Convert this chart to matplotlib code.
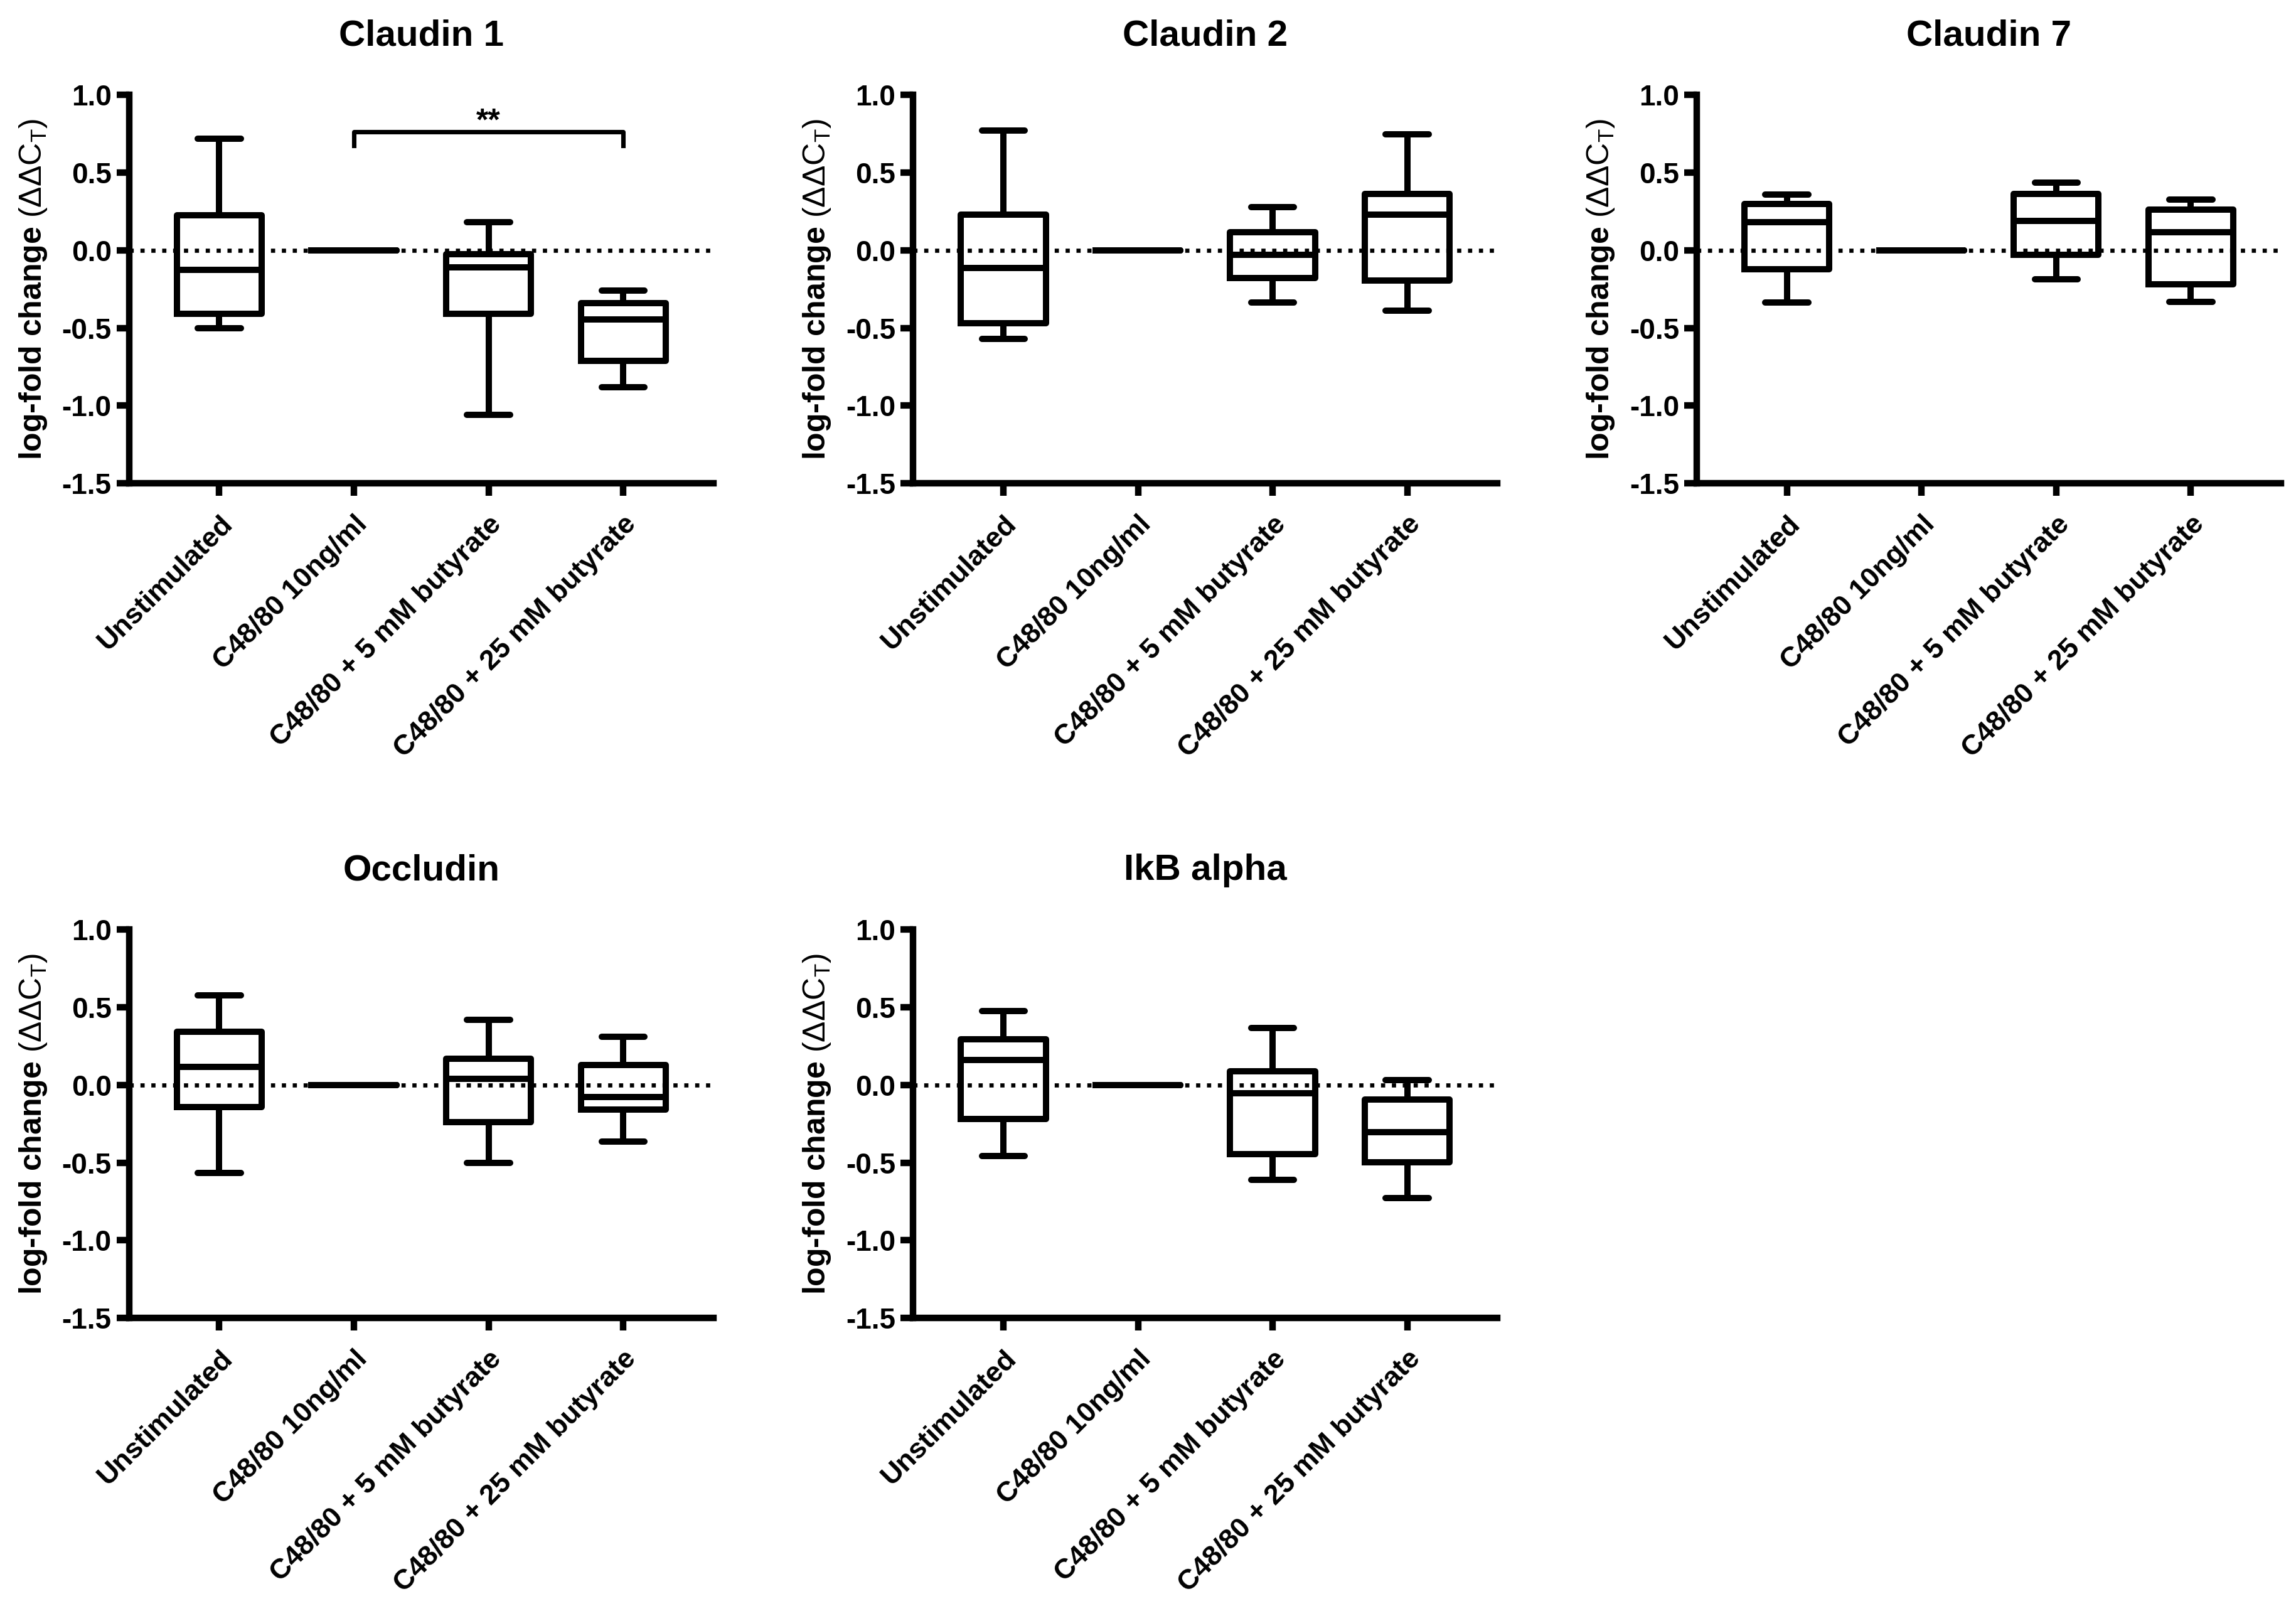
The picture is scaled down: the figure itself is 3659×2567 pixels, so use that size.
import matplotlib
matplotlib.use("Agg")
import matplotlib.pyplot as plt

plt.rcParams['font.family'] = ['Liberation Sans', 'DejaVu Sans']
plt.rcParams['mathtext.fontset'] = 'custom'
plt.rcParams['mathtext.rm'] = 'Liberation Sans'
plt.rcParams['mathtext.it'] = 'Liberation Sans:italic'
plt.rcParams['mathtext.bf'] = 'Liberation Sans:bold'

categories = ["Unstimulated", "C48/80 10ng/ml", "C48/80 + 5 mM butyrate", "C48/80 + 25 mM butyrate"]
titles = ["Claudin 1", "Claudin 2", "Claudin 7", "Occludin", "IkB alpha"]

# per panel: whisker low, Q1, median, Q3, whisker high for each category
claudin1_low = [-0.50, 0.0, -1.06, -0.88]
claudin1_q1 = [-0.41, 0.0, -0.41, -0.71]
claudin1_med = [-0.125, 0.0, -0.11, -0.445]
claudin1_q3 = [0.225, 0.0, -0.025, -0.34]
claudin1_high = [0.72, 0.0, 0.18, -0.26]

claudin2_low = [-0.57, 0.0, -0.335, -0.39]
claudin2_q1 = [-0.47, 0.0, -0.18, -0.195]
claudin2_med = [-0.115, 0.0, -0.03, 0.228]
claudin2_q3 = [0.23, 0.0, 0.115, 0.363]
claudin2_high = [0.77, 0.0, 0.28, 0.746]

claudin7_low = [-0.335, 0.0, -0.185, -0.33]
claudin7_q1 = [-0.12, 0.0, -0.03, -0.22]
claudin7_med = [0.183, 0.0, 0.19, 0.115]
claudin7_q3 = [0.30, 0.0, 0.363, 0.264]
claudin7_high = [0.358, 0.0, 0.435, 0.327]

occludin_low = [-0.567, 0.0, -0.50, -0.364]
occludin_q1 = [-0.14, 0.0, -0.238, -0.158]
occludin_med = [0.117, 0.0, 0.04, -0.077]
occludin_q3 = [0.344, 0.0, 0.168, 0.13]
occludin_high = [0.577, 0.0, 0.42, 0.312]

ikb_low = [-0.458, 0.0, -0.61, -0.727]
ikb_q1 = [-0.218, 0.0, -0.444, -0.498]
ikb_med = [0.16, 0.0, -0.052, -0.303]
ikb_q3 = [0.296, 0.0, 0.087, -0.094]
ikb_high = [0.476, 0.0, 0.368, 0.03]

panels = [
    (claudin1_low, claudin1_q1, claudin1_med, claudin1_q3, claudin1_high),
    (claudin2_low, claudin2_q1, claudin2_med, claudin2_q3, claudin2_high),
    (claudin7_low, claudin7_q1, claudin7_med, claudin7_q3, claudin7_high),
    (occludin_low, occludin_q1, occludin_med, occludin_q3, occludin_high),
    (ikb_low, ikb_q1, ikb_med, ikb_q3, ikb_high),
]

yticks = [-1.5, -1.0, -0.5, 0.0, 0.5, 1.0]
ytick_labels = ["-1.5", "-1.0", "-0.5", "0.0", "0.5", "1.0"]

# significance annotation (Claudin 1): between category 1 and 3
sig_pair = (1, 3)
sig_y = 0.765
sig_label = "**"

fig = plt.figure(figsize=(3659/300, 2567/300), dpi=300)

lefts = [0.0562, 0.3977, 0.7390]
bottoms = [0.700, 0.1819]
W, H = 0.2545, 0.2410

LW = 2.4
SW = 2.5
for i, (title, data) in enumerate(zip(titles, panels)):
    r, c = divmod(i, 3)
    ax = fig.add_axes([lefts[c], bottoms[r], W, H])
    low, q1, med, q3, high = data
    stats = [dict(whislo=low[k], q1=q1[k], med=med[k], q3=q3[k], whishi=high[k], label=categories[k])
             for k in range(len(categories))]
    ax.axhline(0, color='black', linestyle=(0, (1, 1.6)), linewidth=1.6, zorder=1)
    ax.bxp(stats, positions=range(len(categories)), widths=0.63, capwidths=0.32,
           showfliers=False, patch_artist=False,
           boxprops=dict(color='black', linewidth=LW),
           medianprops=dict(color='black', linewidth=LW),
           whiskerprops=dict(color='black', linewidth=LW),
           capprops=dict(color='black', linewidth=LW, solid_capstyle='round'),
           manage_ticks=False)
    ax.set_xlim(-0.67, 3.67)
    ax.set_ylim(-1.5, 1.0)
    ax.set_yticks(yticks)
    ax.set_yticklabels(ytick_labels, fontsize=11, fontweight='bold')
    ax.set_xticks(range(len(categories)))
    ax.set_xticklabels(categories, rotation=45, ha='right', rotation_mode='anchor',
                       fontsize=10.8, fontweight='bold')
    for s in ['top', 'right']:
        ax.spines[s].set_visible(False)
    for s in ['left', 'bottom']:
        ax.spines[s].set_linewidth(SW)
    ax.tick_params(axis='y', length=4.7, width=SW, pad=2)
    ax.tick_params(axis='x', length=4.7, width=SW, pad=6)
    ax.set_title(title, fontsize=14, fontweight='bold', pad=19)
    ax.set_ylabel(r"log-fold change $\mathrm{(ΔΔC_T)}$", fontsize=12, fontweight='bold', labelpad=5)
    if i == 0:
        x0, x1 = sig_pair
        ax.plot([x0, x0, x1, x1], [sig_y - 0.09, sig_y, sig_y, sig_y - 0.09],
                color='black', linewidth=1.7, clip_on=False)
        ax.text((x0 + x1) / 2, sig_y + 0.01, sig_label, ha='center', va='baseline',
                fontsize=12, fontweight='bold')

fig.savefig("out.png", dpi=300, facecolor='white')
